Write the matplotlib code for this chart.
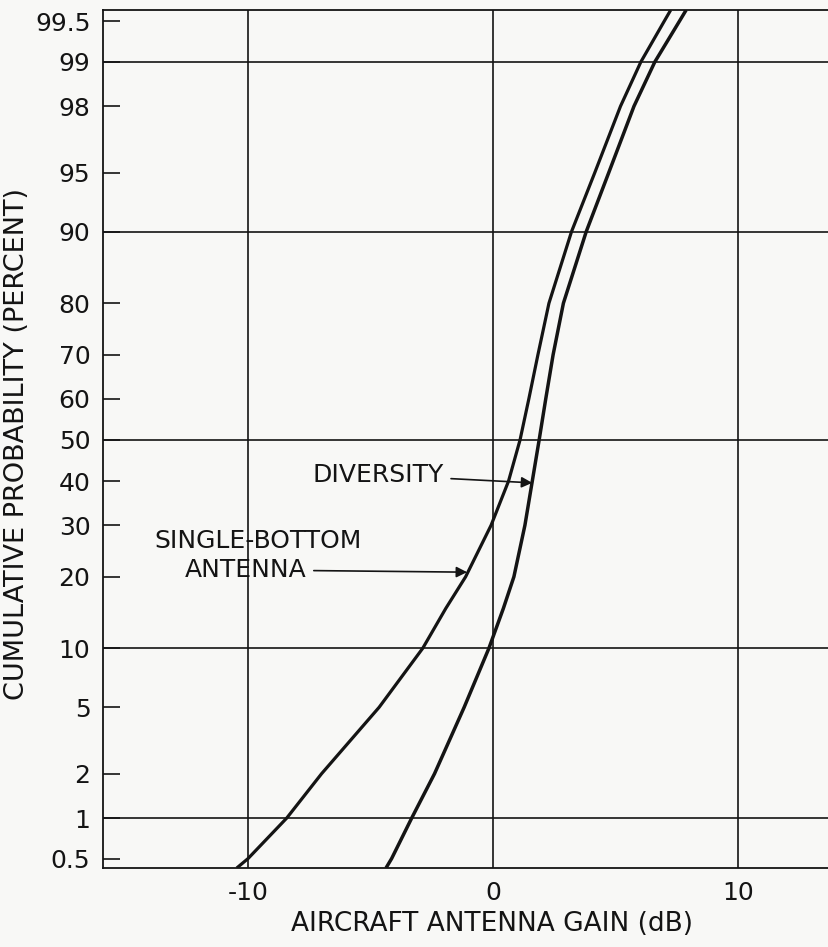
import numpy as np
import matplotlib
matplotlib.use("Agg")
import matplotlib.pyplot as plt
from statistics import NormalDist

# cumulative probability (percent)
prob = [0.422, 0.5, 1, 2, 5, 10, 15, 20, 30, 40, 50, 60, 70, 80, 90, 95, 98, 99, 99.5, 99.593]

# aircraft antenna gain (dB)
single_bottom = [-10.46, -10.0, -8.42, -7.0, -4.65, -2.87, -1.93, -1.12, -0.08, 0.63,
                 1.10, 1.46, 1.83, 2.28, 3.20, 4.15, 5.20, 6.03, 6.98, 7.25]
diversity = [-4.37, -4.14, -3.32, -2.39, -1.18, -0.17, 0.42, 0.85, 1.30, 1.60,
             1.88, 2.15, 2.45, 2.87, 3.80, 4.72, 5.75, 6.60, 7.60, 7.88]

prob_ticks = [0.5, 1, 2, 5, 10, 20, 30, 40, 50, 60, 70, 80, 90, 95, 98, 99, 99.5]
prob_tick_labels = ["0.5", "1", "2", "5", "10", "20", "30", "40", "50", "60",
                    "70", "80", "90", "95", "98", "99", "99.5"]
prob_grid = [1, 10, 50, 90, 99]
gain_ticks = [-10, 0, 10]

ink = "#141414"
paper = "#f8f8f6"
fs = 18

#escala de probabilidad normal
_nd = NormalDist()
_ppf = np.vectorize(_nd.inv_cdf, otypes=[float])
_cdf = np.vectorize(_nd.cdf, otypes=[float])

def probit(p):
    p = np.clip(np.asarray(p, dtype=float) / 100.0, 1e-9, 1 - 1e-9)
    return _ppf(p)

def probit_inv(z):
    return _cdf(np.asarray(z, dtype=float)) * 100.0

plt.rcParams["font.family"] = ["DejaVu Sans"]

fig = plt.figure(figsize=(8.29, 9.47), dpi=100, facecolor=paper)
ax = fig.add_axes([103 / 829, 1 - 868 / 947, 1 - 103 / 829, (868 - 10) / 947])
ax.set_facecolor(paper)
ax.set_yscale("function", functions=(probit, probit_inv))
ax.set_xlim(-15.92, 13.71)
ax.set_ylim(0.422, 99.593)

# rejilla
for p in prob_grid:
    ax.axhline(p, color=ink, lw=1.2, zorder=1)
for g in gain_ticks:
    ax.axvline(g, color=ink, lw=1.2, zorder=1)

# curvas
ax.plot(single_bottom, prob, color=ink, lw=2.3, zorder=3, solid_capstyle="butt")
ax.plot(diversity, prob, color=ink, lw=2.5, zorder=3, solid_capstyle="butt")

ax.set_yticks(prob_ticks)
ax.set_yticklabels(prob_tick_labels)
ax.yaxis.set_minor_locator(matplotlib.ticker.NullLocator())
ax.set_xticks(gain_ticks)
ax.set_xticklabels(["-10", "0", "10"])
ax.tick_params(axis="y", direction="in", length=12, width=1.2, colors=ink,
               labelsize=fs, pad=9)
ax.tick_params(axis="x", length=0, colors=ink, labelsize=fs, pad=9)

for side in ["left", "top", "bottom"]:
    ax.spines[side].set_color(ink)
    ax.spines[side].set_linewidth(1.3)
ax.spines["right"].set_visible(False)

ax.set_xlabel("AIRCRAFT ANTENNA GAIN (dB)", fontsize=19, color=ink, va="center")
ax.xaxis.set_label_coords((492 - 103) / 726, -(924 - 868) / 858)
ax.set_ylabel("CUMULATIVE PROBABILITY (PERCENT)", fontsize=19.5, color=ink, va="center")
ax.yaxis.set_label_coords(-(103 - 17) / 726, 0.494)

# etiquetas con flechas
arrow = dict(arrowstyle="-|>", color=ink, lw=1.2, mutation_scale=16,
             shrinkA=3, shrinkB=0)
ax.annotate("DIVERSITY", xy=(1.6, 39.6), xytext=(-2.0, 41.5),
            ha="right", va="center", fontsize=fs, color=ink, arrowprops=arrow)
ax.text(-9.61, 26.7, "SINGLE-BOTTOM", ha="center", va="center", fontsize=fs, color=ink)
ax.annotate("ANTENNA", xy=(-1.06, 20.8), xytext=(-7.6, 21.2),
            ha="right", va="center", fontsize=fs, color=ink, arrowprops=arrow)

fig.savefig("out.png", dpi=100, facecolor=paper)
